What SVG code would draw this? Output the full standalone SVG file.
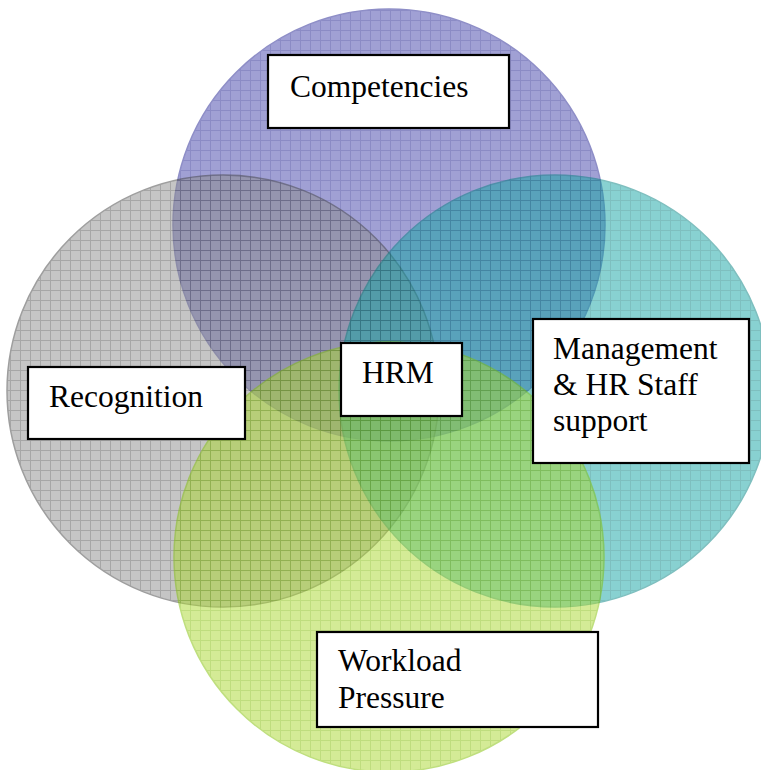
<svg xmlns="http://www.w3.org/2000/svg" width="761" height="770" viewBox="0 0 761 770">
  <style>
    .circle { opacity: 0.5; stroke-width: 1.5; }
    .box { fill: #ffffff; stroke: #000000; stroke-width: 2.2; }
    .label { font-family: "Liberation Serif", "Times New Roman", serif; font-size: 31.5px; fill: #000000; }
  </style>
  <defs>
    <pattern id="pBlue" patternUnits="userSpaceOnUse" width="10" height="10">
      <rect width="10" height="10" fill="#4343ab"/>
      <path d="M0.5 0V10M0 0.5H10" stroke="#1a1a8c" stroke-width="1"/>
    </pattern>
    <pattern id="pGray" patternUnits="userSpaceOnUse" width="10" height="10">
      <rect width="10" height="10" fill="#8c8c8c"/>
      <path d="M0.5 0V10M0 0.5H10" stroke="#505050" stroke-width="1"/>
    </pattern>
    <pattern id="pTeal" patternUnits="userSpaceOnUse" width="10" height="10">
      <rect width="10" height="10" fill="#14a4a4"/>
      <path d="M0.5 0V10M0 0.5H10" stroke="#008080" stroke-width="1"/>
    </pattern>
    <pattern id="pGreen" patternUnits="userSpaceOnUse" width="10" height="10">
      <rect width="10" height="10" fill="#aad830"/>
      <path d="M0.5 0V10M0 0.5H10" stroke="#80bc00" stroke-width="1"/>
    </pattern>
  </defs>
  <rect width="761" height="770" fill="#ffffff"/>
  <g id="circles">
    <circle id="c-competencies" class="circle" cx="389" cy="225" r="216" fill="url(#pBlue)" stroke="#202090"/>
    <circle id="c-recognition" class="circle" cx="223" cy="391" r="216" fill="url(#pGray)" stroke="#404040"/>
    <circle id="c-management" class="circle" cx="555" cy="391" r="216" fill="url(#pTeal)" stroke="#008080"/>
    <circle id="c-workload" class="circle" cx="389" cy="557" r="215" fill="url(#pGreen)" stroke="#80c000"/>
  </g>
  <g id="connectors"></g>
  <g id="node-competencies">
    <rect class="box" x="268" y="55" width="241" height="73"/>
    <text class="label" x="290" y="97">Competencies</text>
  </g>
  <g id="node-hrm">
    <rect class="box" x="341" y="343" width="121" height="73"/>
    <text class="label" x="362" y="383">HRM</text>
  </g>
  <g id="node-recognition">
    <rect class="box" x="28" y="367" width="217" height="72"/>
    <text class="label" x="49" y="407">Recognition</text>
  </g>
  <g id="node-management">
    <rect class="box" x="533" y="319" width="216" height="144"/>
    <text class="label" x="553" y="359">Management</text>
    <text class="label" x="553" y="395">&amp; HR Staff</text>
    <text class="label" x="553" y="431">support</text>
  </g>
  <g id="node-workload">
    <rect class="box" x="317" y="632" width="281" height="95"/>
    <text class="label" x="338" y="671">Workload</text>
    <text class="label" x="338" y="708">Pressure</text>
  </g>
</svg>
